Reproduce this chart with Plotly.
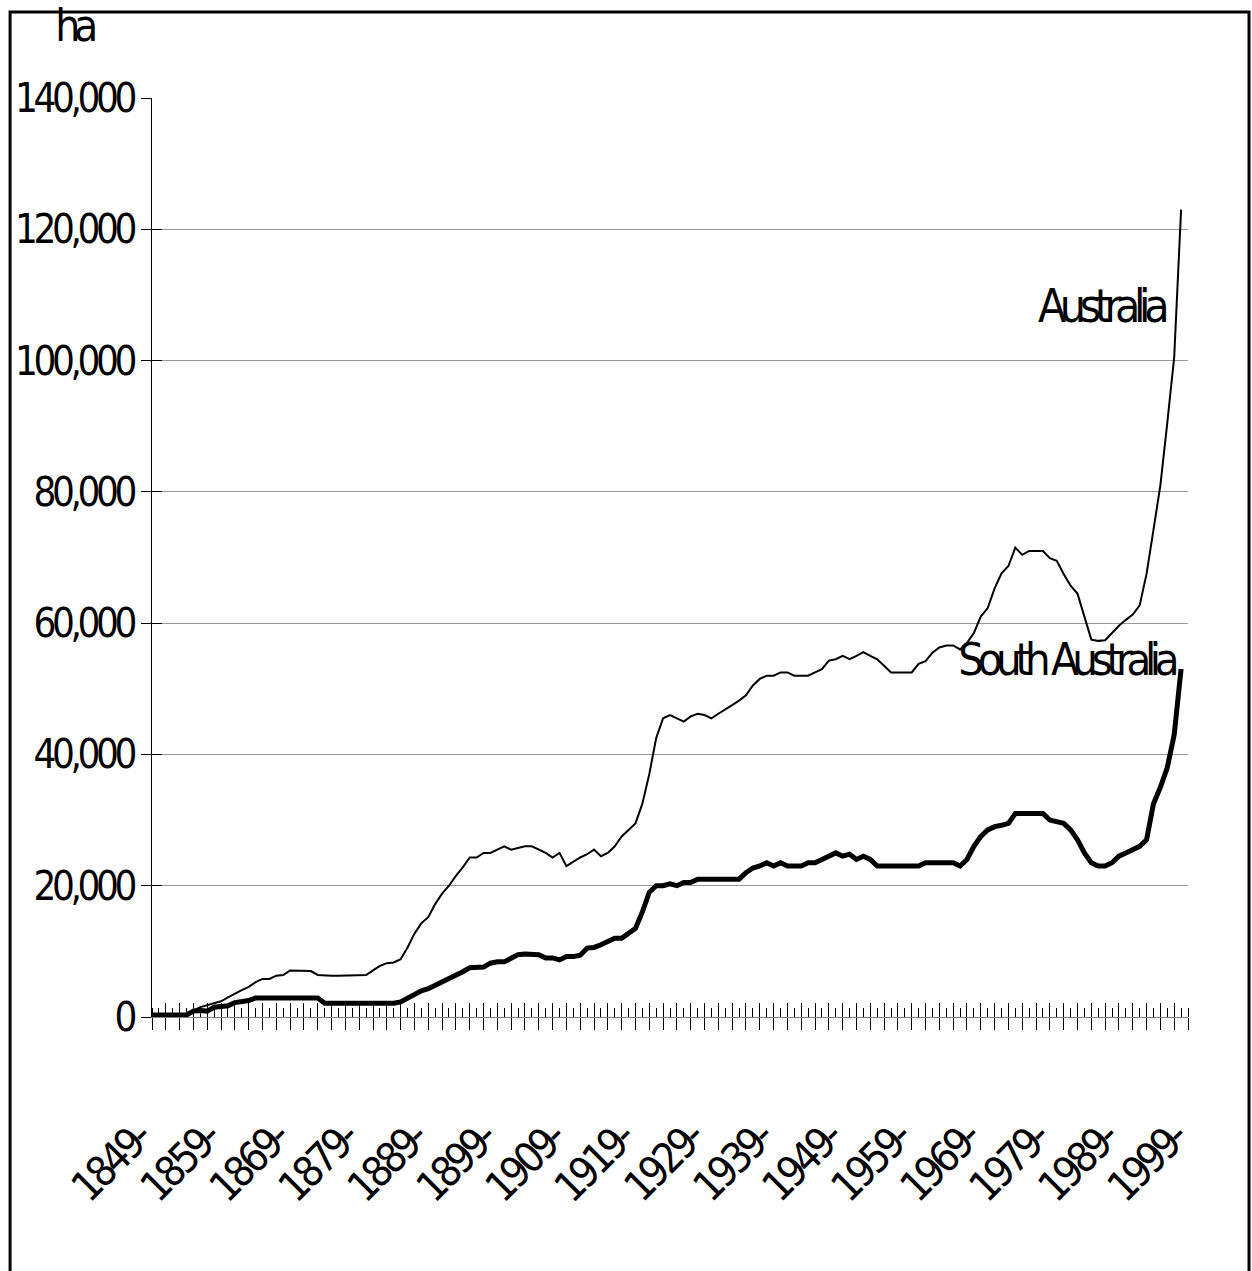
import plotly.graph_objects as go

years = list(range(1849, 1999))

australia = [
    0, 0, 0, 0, 0, 300, 1000, 1500, 1800, 2100,
    2400, 3000, 3600, 4100, 4600, 5300, 5800, 5800, 6300, 6400,
    7100, 7100, 7100, 7000, 6400, 6300, 6300, 6300, 6300, 6300,
    6300, 6400, 7100, 7800, 8200, 8300, 8800, 10600, 12700, 14300,
    15200, 17200, 18800, 20000, 21500, 22800, 24300, 24300, 25000, 25000,
    25500, 26000, 25500, 25700, 26000, 26000, 25500, 25000, 24300, 25000,
    23000, 23700, 24300, 24800, 25500, 24500, 25000, 26000, 27500, 28500,
    29500, 32500, 37000, 42500, 45500, 46000, 45500, 45000, 45800, 46200,
    46000, 45500, 46200, 46800, 47500, 48200, 49000, 50500, 51500, 52000,
    52000, 52500, 52500, 52000, 52000, 52000, 52500, 53000, 54300, 54500,
    55000, 54500, 55000, 55600, 55000, 54500, 53500, 52500, 52500, 52500,
    52500, 53800, 54200, 55500, 56300, 56600, 56600, 56000, 57000, 58500,
    61000, 62300, 65300, 67600, 68700, 71500, 70400, 71000, 71000, 71000,
    69900, 69500, 67500, 65700, 64500, 61000, 57500, 57300, 57400, 58500,
    59600, 60500, 61300, 62700, 67500, 74200, 81000, 90500, 100500, 123000,
]

south_australia = [
    300, 300, 300, 300, 300, 300, 900, 1000, 900, 1500,
    1600, 1700, 2200, 2300, 2500, 2900, 2900, 2900, 2900, 2900,
    2900, 2900, 2900, 2900, 2900, 2100, 2100, 2100, 2100, 2100,
    2100, 2100, 2100, 2100, 2100, 2100, 2300, 2900, 3500, 4000,
    4300, 4800, 5300, 5700, 6300, 6900, 7500, 7600, 7600, 8200,
    8400, 8400, 9000, 9500, 9600, 9600, 9500, 9000, 9000, 8700,
    9200, 9200, 9400, 10500, 10600, 11000, 11500, 12000, 12000, 12800,
    13500, 16000, 19000, 20000, 20000, 20300, 20000, 20500, 20500, 21000,
    21000, 21000, 21000, 21000, 21000, 21000, 22000, 22700, 23000, 23500,
    23000, 23500, 23000, 23000, 23000, 23500, 23500, 24000, 24500, 25000,
    24500, 24800, 24000, 24500, 24000, 23000, 23000, 23000, 23000, 23000,
    23000, 23000, 23500, 23500, 23500, 23500, 23500, 23000, 24000, 26000,
    27500, 28500, 29000, 29200, 29500, 31000, 31000, 31000, 31000, 31000,
    30000, 29800, 29500, 28500, 27000, 25000, 23500, 23000, 23000, 23500,
    24500, 25000, 25500, 26000, 27000, 32500, 35000, 38000, 43000, 53000,
]

label_years = list(range(1849, 2000, 10))
label_text = [f"{y}-" for y in label_years]
y_ticks = list(range(0, 140001, 20000))

FONT = "DejaVu Sans Condensed, Liberation Sans Narrow, Arial Narrow, sans-serif"

fig = go.Figure()
fig.add_trace(go.Scatter(x=years, y=australia, mode="lines",
                         line=dict(color="black", width=2), showlegend=False,
                         hoverinfo="skip"))
fig.add_trace(go.Scatter(x=years, y=south_australia, mode="lines",
                         line=dict(color="black", width=5), showlegend=False,
                         hoverinfo="skip"))
# invisible helper trace so the overlay axes (crossing ticks) render
fig.add_trace(go.Scatter(x=years, y=australia, mode="lines", xaxis="x2",
                         yaxis="y2", line=dict(width=0), opacity=0,
                         showlegend=False, hoverinfo="skip"))

xr = [1849, 1999]
yr = [0, 140000]

fig.update_layout(
    width=1252, height=1271,
    margin=dict(l=152, r=64, t=98, b=254),
    paper_bgcolor="white", plot_bgcolor="white",
    font=dict(family=FONT, color="black", size=40),
    xaxis=dict(range=xr, showgrid=False, zeroline=False, automargin=False,
               showline=True, linecolor="#808080", linewidth=1,
               ticks="outside", tick0=1849, dtick=2, ticklen=12,
               tickcolor="black", tickwidth=1, showticklabels=False,
               minor=dict(ticks="inside", tick0=1849, dtick=1, ticklen=9,
                          tickcolor="black", tickwidth=1, showgrid=False)),
    xaxis2=dict(range=xr, overlaying="x", anchor="y", side="bottom",
                showgrid=False, automargin=False,
                zeroline=False, showline=False, ticks="inside", tick0=1849,
                dtick=2, ticklen=14, tickcolor="black", tickwidth=1,
                showticklabels=False),
    yaxis=dict(range=yr, tickmode="array", tickvals=y_ticks, automargin=False,
               tickformat=",", showgrid=True, gridcolor="#999999",
               gridwidth=1, zeroline=False, showline=True,
               linecolor="black", linewidth=1, ticks="outside",
               ticklen=10, tickcolor="black",
               tickfont=dict(size=40, family=FONT)),
    yaxis2=dict(range=yr, overlaying="y", anchor="x", automargin=False,
                tickmode="array", tickvals=y_ticks,
                showgrid=False, zeroline=False, showline=False,
                ticks="inside", ticklen=10, tickcolor="black",
                showticklabels=False),
)

# rotated category labels
for yv, txt in zip(label_years, label_text):
    fig.add_annotation(text=txt, x=yv, y=0, xref="x", yref="y",
                       xanchor="center", yanchor="middle", textangle=-45,
                       xshift=-42, yshift=-145, showarrow=False,
                       font=dict(size=42, family=FONT))

fig.add_annotation(text="ha", xref="paper", yref="paper",
                   x=-0.0753, y=1.079, xanchor="center", yanchor="middle",
                   showarrow=False, font=dict(size=44, family=FONT))
fig.add_annotation(text="Australia", x=1986.4, y=108300,
                   xanchor="center", yanchor="middle", showarrow=False,
                   font=dict(size=46, family=FONT))
fig.add_annotation(text="South Australia", x=1981.3, y=54400,
                   xanchor="center", yanchor="middle", showarrow=False,
                   font=dict(size=45, family=FONT))

fig.add_shape(type="rect", xref="paper", yref="paper",
              x0=-0.137, x1=1.0589, y0=-0.30, y1=1.0936,
              line=dict(color="black", width=3), fillcolor="rgba(0,0,0,0)",
              layer="above")

squeeze_js = """
var gd = document.getElementById('{plot_id}');
gd.querySelectorAll('.ytick text').forEach(function(t){ t.style.letterSpacing = '-0.11em'; });
gd.querySelectorAll('text.annotation-text').forEach(function(t){
  var fs = parseFloat(t.style.fontSize || '0');
  t.style.letterSpacing = (fs === 42) ? '-0.10em' : '-0.14em';
});
"""

fig.write_html("out.html", post_script=squeeze_js)
